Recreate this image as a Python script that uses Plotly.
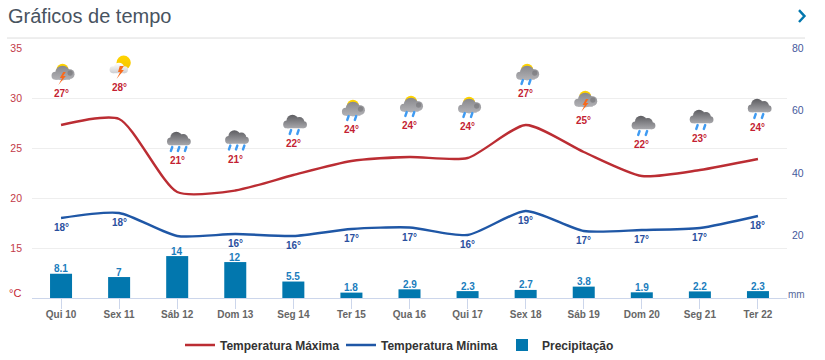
import base64
import plotly.graph_objects as go

days = ["Qui 10", "Sex 11", "Sáb 12", "Dom 13", "Seg 14", "Ter 15", "Qua 16",
        "Qui 17", "Sex 18", "Sáb 19", "Dom 20", "Seg 21", "Ter 22"]
temp_max = [27.3, 27.9, 20.6, 20.75, 22.3, 23.7, 24.1, 24.0, 27.3, 24.6, 22.2, 22.8, 23.9]
temp_min = [18.0, 18.5, 16.2, 16.4, 16.2, 16.9, 17.05, 16.3, 18.7, 16.7, 16.8, 17.0, 18.2]
precip = [8.1, 7, 14, 12, 5.5, 1.8, 2.9, 2.3, 2.7, 3.8, 1.9, 2.2, 2.3]
max_labels = [27, 28, 21, 21, 22, 24, 24, 24, 27, 25, 22, 23, 24]
min_labels = [18, 18, None, 16, 16, 17, 17, 16, 19, 17, 17, 17, 18]
icons = ["sun_storm", "white_storm", "rain3", "rain3", "rain2", "sun_rain", "sun_rain",
         "sun_rain", "sun_rain", "sun_storm", "rain2", "rain2", "rain2"]

W, H = 825, 360
L, R, T, B = 32, 787, 47.5, 298
FONT = "Liberation Sans"
RED, BLUE, BAR = "#bb2d33", "#1f57a6", "#0277ae"


def px(x):
    return (x - L) / (R - L)


def py(y):
    return (B - y) / (B - T)


def icon_svg(kind):
    defs = ('<defs><linearGradient id="s" x1="0" y1="0" x2="0" y2="1">'
            '<stop offset="0" stop-color="#ffd400"/><stop offset="1" stop-color="#f4c400"/></linearGradient>'
            '<linearGradient id="g" gradientUnits="userSpaceOnUse" x1="0" y1="5" x2="0" y2="18">'
            '<stop offset="0" stop-color="#88888c"/><stop offset="1" stop-color="#b2b2b6"/></linearGradient>'
            '<linearGradient id="d" gradientUnits="userSpaceOnUse" x1="0" y1="3" x2="0" y2="16">'
            '<stop offset="0" stop-color="#58585c"/><stop offset="1" stop-color="#a6a6aa"/></linearGradient>'
            '<linearGradient id="w" gradientUnits="userSpaceOnUse" x1="0" y1="8" x2="0" y2="17">'
            '<stop offset="0" stop-color="#ffffff"/><stop offset="1" stop-color="#cfcfd2"/></linearGradient></defs>')
    bolt = '<path d="M12.6 10.5 L9.6 16 L11.6 16 L8.2 22.5 L15 14.2 L12.6 14.2 L15 10.5 Z" fill="#f96a1c"/>'
    drop = '<path d="M{0} 18 L{1} 21.5" stroke="#3f9bf2" stroke-width="2.3" stroke-linecap="round"/>'

    def lobes(items, fill):
        return f'<g fill="{fill}">' + "".join(
            f'<circle cx="{c[0]}" cy="{c[1]}" r="{c[2]}"/>' for c in items) + "</g>"

    grey_cloud = (lobes([(12, 11.5, 6.8), (5.5, 14, 3.7), (18.5, 12.5, 4.6)], "url(#g)")
                  + '<rect x="5.5" y="13" width="13.5" height="4.7" fill="url(#g)"/>'
                  + '<circle cx="19" cy="11.5" r="2.4" fill="#6f6f73" opacity=".55"/>')
    sun = '<circle cx="12" cy="8.4" r="5.6" fill="url(#s)"/>'
    dark_cloud = (lobes([(9.8, 9.5, 5.6), (16.2, 10.6, 4.6), (4.8, 12.8, 3.6), (20, 13, 3.2)], "url(#d)")
                  + '<rect x="4.8" y="12" width="15.2" height="4.3" fill="url(#d)"/>')
    white_cloud = (lobes([(10.5, 12, 4.6), (5, 14, 3.2), (15.6, 14, 3.2)], "url(#w)")
                   + '<rect x="5" y="13" width="11" height="4.2" fill="url(#w)"/>')
    body = ""
    if kind == "sun_storm":
        body = sun + grey_cloud + bolt
    elif kind == "sun_rain":
        body = sun + grey_cloud + drop.format(8, 6.8) + drop.format(15, 13.8)
    elif kind == "white_storm":
        body = '<circle cx="14.8" cy="7.5" r="6.6" fill="url(#s)"/>' + white_cloud + bolt.replace("M12.6 10.5", "M11.2 10.5")
    elif kind == "rain3":
        body = dark_cloud + drop.format(6, 4.8) + drop.format(12.5, 11.3) + drop.format(19, 17.8)
    elif kind == "rain2":
        body = dark_cloud + drop.format(8.5, 7.3) + drop.format(15.5, 14.3)
    svg = f'<svg xmlns="http://www.w3.org/2000/svg" width="48" height="48" viewBox="0 0 24 24">{defs}{body}</svg>'
    return "data:image/svg+xml;base64," + base64.b64encode(svg.encode()).decode()


fig = go.Figure()
fig.add_trace(go.Scatter(
    x=days, y=temp_max, name="Temperatura Máxima", mode="lines",
    line=dict(color=RED, width=2.4, shape="spline", smoothing=0.65)))
fig.add_trace(go.Scatter(
    x=days, y=temp_min, name="Temperatura Mínima", mode="lines",
    line=dict(color=BLUE, width=2.4, shape="spline", smoothing=0.65)))
fig.add_trace(go.Bar(
    x=days, y=precip, name="Precipitação", yaxis="y3", width=0.379,
    marker=dict(color=BAR, line=dict(width=0)), hoverinfo="skip"))
fig.add_trace(go.Scatter(x=days, y=[None] * len(days), yaxis="y2", showlegend=False,
                         mode="lines", hoverinfo="skip"))

deg_px = (B - T) / 25
annotations, images = [], []
for i, (day, hi, lo) in enumerate(zip(days, temp_max, temp_min)):
    annotations.append(dict(x=i, y=hi, xref="x", yref="y", yshift=31.5, showarrow=False,
                            text=f"<b>{max_labels[i]}°</b>",
                            font=dict(family=FONT, size=10, color="#c41f33")))
    if min_labels[i] is not None:
        annotations.append(dict(x=i, y=lo, xref="x", yref="y", yshift=-9.5, showarrow=False,
                                text=f"<b>{min_labels[i]}°</b>",
                                font=dict(family=FONT, size=10, color="#2b4f9e")))
    annotations.append(dict(x=i, y=precip[i], xref="x", yref="y3", yshift=5, showarrow=False,
                            text=f"<b>{precip[i]}</b>",
                            font=dict(family=FONT, size=10, color="#1b7dbd")))
    images.append(dict(source=icon_svg(icons[i]), xref="x", yref="y",
                       x=i + 1.5 / 58.07, y=hi + 51.5 / deg_px,
                       sizex=26 / 58.07, sizey=26 / deg_px,
                       xanchor="center", yanchor="middle", layer="above"))

annotations += [
    dict(x=px(7), y=py(15), xref="paper", yref="paper", xanchor="left", yanchor="middle",
         showarrow=False, text="Gráficos de tempo",
         font=dict(family=FONT, size=20, color="#48535f"), xshift=-1),
    dict(x=px(15), y=py(293), xref="paper", yref="paper", xanchor="center", yanchor="middle",
         showarrow=False, text="°C", font=dict(family=FONT, size=11, color="#c41f33")),
    dict(x=px(796), y=py(294), xref="paper", yref="paper", xanchor="center", yanchor="middle",
         showarrow=False, text="mm", font=dict(family=FONT, size=10, color="#56699c")),
]

shapes = [
    dict(type="line", xref="paper", yref="paper", x0=px(7), x1=px(805), y0=py(37.5), y1=py(37.5),
         line=dict(color="#dddddd", width=1)),
    dict(type="path", xref="paper", yref="paper",
         path=f"M {px(799)} {py(9.5)} L {px(804.5)} {py(15.5)} L {px(799)} {py(21.5)}",
         line=dict(color=BAR, width=2.4)),
]

fig.update_layout(
    width=W, height=H, autosize=False, paper_bgcolor="white", plot_bgcolor="white",
    margin=dict(l=L, r=W - R, t=T, b=H - B, pad=0, autoexpand=False), bargap=0.6, barmode="overlay",
    font=dict(family=FONT),
    xaxis=dict(type="category", range=[-0.5, 12.5], showgrid=False, linecolor="#ccd6eb",
               linewidth=1, ticks="outside", ticklen=10, tickcolor="#ccd6eb", tickwidth=1,
               tickfont=dict(family=FONT, size=10, color="#666666", weight="bold"),
               ticklabelstandoff=-3, automargin=False, fixedrange=True),
    yaxis=dict(range=[10, 35], tickvals=[15, 20, 25, 30, 35], showgrid=True,
               gridcolor="#eeeeee", gridwidth=1, zeroline=False, showline=False, ticks="",
               tickfont=dict(family=FONT, size=10.5, color="#c23a48"), ticklabelstandoff=9,
               automargin=False, fixedrange=True),
    yaxis2=dict(range=[0, 80], tickvals=[20, 40, 60, 80], overlaying="y", side="right",
                showgrid=False, zeroline=False, showline=False, ticks="",
                tickfont=dict(family=FONT, size=10.5, color="#45599c"), ticklabelstandoff=4,
                automargin=False, fixedrange=True),
    yaxis3=dict(range=[0, 83.5], overlaying="y", visible=False, fixedrange=True),
    legend=dict(orientation="h", xref="container", yref="container",
                x=180 / W, y=1 - 345 / H, xanchor="left", yanchor="middle",
                entrywidth=116, entrywidthmode="pixels", traceorder="normal",
                font=dict(family=FONT, size=12, color="#333333", weight="bold"),
                bgcolor="rgba(0,0,0,0)"),
    annotations=annotations, shapes=shapes, images=images, showlegend=True,
)

fig.write_html("out.html", config=dict(displayModeBar=False),
               post_script="document.body.style.margin='0';")
